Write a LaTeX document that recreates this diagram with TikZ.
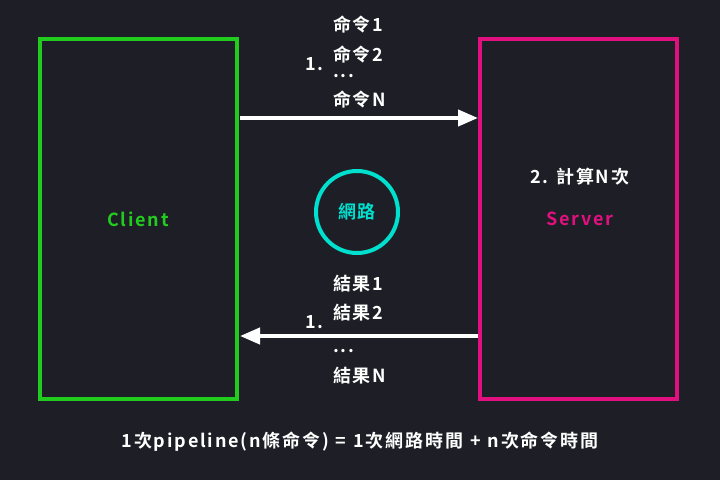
\documentclass[tikz,border=0pt]{standalone}
\usepackage{fontspec}
\newfontfamily\cjk[UprightFont=* Bold,LetterSpace=10]{Noto Sans CJK TC}
\usetikzlibrary{arrows.meta}
\definecolor{bg}{HTML}{1E1F26}
\definecolor{cgreen}{HTML}{22CC1E}
\definecolor{cmag}{HTML}{E0107F}
\definecolor{ccyan}{HTML}{00E0CF}
\newcommand\wsp{\hspace{7pt}}
\begin{document}
\begin{tikzpicture}[x=1pt,y=-1pt,
  box/.style={draw,line width=4pt,minimum width=197pt,minimum height=360pt,inner sep=0pt},
  fnt/.style={font=\cjk\fontsize{18}{20}\selectfont},
  txt/.style={fnt,text=white,inner sep=0pt,anchor=west},
  dots/.style={txt,anchor=base west,text height=3pt,text depth=0pt},
  arr/.style={draw=white,line width=4pt,-{Triangle[length=20pt,width=16pt]}}]
\fill[bg] (0,0) rectangle (720,480);
\useasboundingbox (0,0) rectangle (720,480);
\node[box,draw=cgreen] (client) at (138,218.5) {};
\node[box,draw=cmag] (server) at (578,218.5) {};
\node[fnt,text=cgreen] (cl) at (138,219) {Client};
\node[fnt,text=cmag] (sv) at (580,219) {Server};
\node[fnt,draw=ccyan,line width=4pt,circle,minimum size=82pt,inner sep=0pt,text=ccyan] (net) at (357,212) {網路};
\coordinate (t1) at (240,118);
\coordinate (t2) at (478,118);
\coordinate (b1) at (478,336);
\coordinate (b2) at (240,336);
\draw[arr] (t1) -- (t2);
\draw[arr] (b1) -- (b2);
\node[txt] (c1) at (333,25) {命令1};
\node[txt] (c2) at (333,55) {命令2};
\node[dots] (cd) at (333,77) {...};
\node[txt] (cn) at (333,100) {命令N};
\node[txt] (n1) at (305,64) {1.};
\node[txt] (r1) at (333,284) {結果1};
\node[txt] (r2) at (333,313) {結果2};
\node[dots] (rd) at (333,352) {...};
\node[txt] (rn) at (333,376) {結果N};
\node[txt] (n2) at (305,322) {1.};
\node[txt] (calc) at (530,177) {2. 計算N次};
\node[txt,anchor=center] (foot) at (360,442) {1次pipeline(n條命令)\wsp=\wsp1次網路時間\wsp+\wsp n次命令時間};
\end{tikzpicture}
\end{document}
